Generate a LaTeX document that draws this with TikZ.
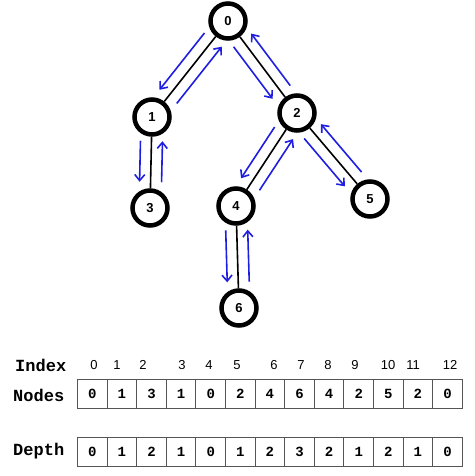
\documentclass[tikz,border=0pt]{standalone}
\usepackage{fontspec}
\setmainfont{Liberation Sans}
\newfontfamily\monob{Liberation Mono}
\usetikzlibrary{arrows.meta,calc}
\definecolor{walkblue}{RGB}{30,30,225}
\definecolor{cellgray}{RGB}{85,85,85}
\begin{document}
\begin{tikzpicture}[x=1pt,y=-1pt,
  tnode/.style={circle,draw=black,line width=4.5pt,fill=white,minimum size=35pt,inner sep=0pt,font=\fontsize{13}{13}\selectfont\bfseries},
  treeedge/.style={line width=1.6pt,black},
  walk/.style={line width=1.6pt,color=walkblue,-{Straight Barb[length=6pt,width=10pt]}},
  cell/.style={draw=cellgray,line width=0.9pt,minimum width=29.6pt,minimum height=29pt,inner sep=0pt,font=\monob\fontsize{14}{14}\selectfont\bfseries},
  rowlabel/.style={anchor=west,inner sep=0pt,font=\monob\fontsize{17}{17}\selectfont\bfseries},
  idx/.style={inner sep=0pt,font=\fontsize{13}{13}\selectfont}
]
\useasboundingbox (0,0) rectangle (474,476);
% tree nodes
\node[tnode] (n0) at (228,21) {0};
\node[tnode] (n1) at (152,117) {1};
\node[tnode] (n2) at (297,113) {2};
\node[tnode] (n3) at (150,208) {3};
\node[tnode] (n4) at (236,206) {4};
\node[tnode] (n5) at (370,199) {5};
\node[tnode] (n6) at (239,308) {6};
% edges and walk arrows
\foreach \a/\b in {n0/n1,n0/n2,n1/n3,n2/n4,n2/n5,n4/n6}{
  \draw[treeedge] (\a) -- (\b);
  \draw[walk] ($(\a)!24pt!(\b)!11pt!-90:(\b)$) -- ($(\b)!26pt!(\a)!11pt!90:(\a)$);
  \draw[walk] ($(\b)!26pt!(\a)!11pt!-90:(\a)$) -- ($(\a)!24pt!(\b)!11pt!90:(\b)$);
}
% labels
\node[rowlabel] (lidx) at (15,365) {Index};
\node[rowlabel] (lnod) at (13,395) {Nodes};
\node[rowlabel] (ldep) at (13,451) {Depth};
% index numbers
\foreach \x [count=\i from 0] in {94,117,143,182,209,237,274,301,328,355,388,413,450}{
  \node[idx] (ix\i) at (\x,365) {\i};
}
% nodes row
\foreach \v [count=\i from 0] in {0,1,3,1,0,2,4,6,4,2,5,2,0}{
  \node[cell] (nd\i) at ({92.3+29.6*\i},393.5) {\v};
}
% depth row
\foreach \v [count=\i from 0] in {0,1,2,1,0,1,2,3,2,1,2,1,0}{
  \node[cell] (dp\i) at ({92.3+29.6*\i},452) {\v};
}
\end{tikzpicture}
\end{document}
